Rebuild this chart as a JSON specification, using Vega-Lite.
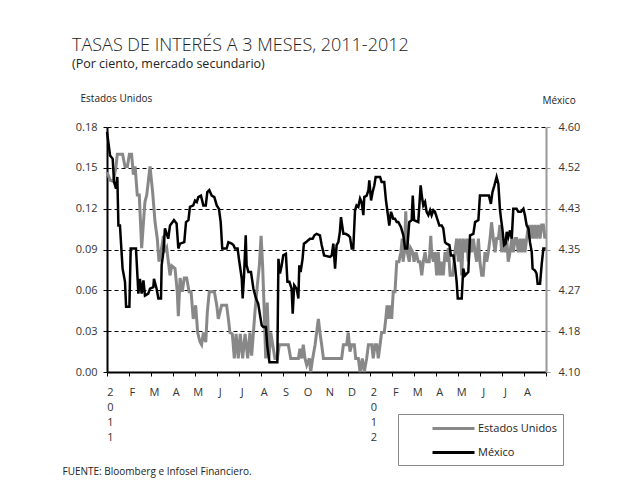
{
"$schema":"https://vega.github.io/schema/vega-lite/v6.json",
"autosize":{"type":"none"},
"width":439,"height":245,
"padding":{"left":107,"top":127,"right":75,"bottom":122},
"background":"white",
"config":{"font":"Open Sans","view":{"stroke":null}},
"title":{"text":"TASAS DE INTERÉS A 3 MESES, 2011-2012","subtitle":"(Por ciento, mercado secundario)","anchor":"start","frame":"group","dx":-35,"offset":23,"fontSize":18,"fontWeight":300,"color":"#222","subtitleFontSize":12.5,"subtitleFontWeight":"normal","subtitleColor":"#222","subtitlePadding":3},
"datasets":{
"us":[{"t":0,"v":0.147},{"t":0.14,"v":0.141},{"t":0.29,"v":0.14},{"t":0.41,"v":0.151},{"t":0.47,"v":0.16},{"t":0.71,"v":0.16},{"t":0.82,"v":0.151},{"t":0.93,"v":0.151},{"t":1.02,"v":0.16},{"t":1.12,"v":0.16},{"t":1.2,"v":0.145},{"t":1.28,"v":0.151},{"t":1.38,"v":0.13},{"t":1.47,"v":0.13},{"t":1.58,"v":0.091},{"t":1.66,"v":0.11},{"t":1.73,"v":0.125},{"t":1.81,"v":0.13},{"t":1.96,"v":0.151},{"t":2.08,"v":0.132},{"t":2.19,"v":0.11},{"t":2.29,"v":0.098},{"t":2.37,"v":0.081},{"t":2.46,"v":0.088},{"t":2.57,"v":0.1},{"t":2.64,"v":0.088},{"t":2.72,"v":0.091},{"t":2.87,"v":0.071},{"t":2.95,"v":0.078},{"t":3.1,"v":0.076},{"t":3.2,"v":0.059},{"t":3.25,"v":0.041},{"t":3.33,"v":0.069},{"t":3.43,"v":0.059},{"t":3.52,"v":0.069},{"t":3.63,"v":0.069},{"t":3.74,"v":0.059},{"t":3.83,"v":0.059},{"t":3.93,"v":0.039},{"t":4.04,"v":0.049},{"t":4.13,"v":0.029},{"t":4.24,"v":0.022},{"t":4.31,"v":0.02},{"t":4.39,"v":0.029},{"t":4.5,"v":0.022},{"t":4.57,"v":0.044},{"t":4.66,"v":0.059},{"t":4.89,"v":0.059},{"t":5.0,"v":0.049},{"t":5.07,"v":0.039},{"t":5.22,"v":0.049},{"t":5.45,"v":0.049},{"t":5.53,"v":0.039},{"t":5.6,"v":0.029},{"t":5.71,"v":0.028},{"t":5.8,"v":0.01},{"t":5.88,"v":0.028},{"t":5.98,"v":0.01},{"t":6.07,"v":0.028},{"t":6.18,"v":0.01},{"t":6.29,"v":0.028},{"t":6.41,"v":0.01},{"t":6.51,"v":0.029},{"t":6.59,"v":0.012},{"t":6.67,"v":0.029},{"t":6.74,"v":0.044},{"t":6.85,"v":0.064},{"t":6.94,"v":0.078},{"t":7.02,"v":0.1},{"t":7.09,"v":0.078},{"t":7.15,"v":0.051},{"t":7.23,"v":0.01},{"t":7.3,"v":0.051},{"t":7.38,"v":0.01},{"t":7.46,"v":0.029},{"t":7.55,"v":0.02},{"t":7.65,"v":0.01},{"t":7.76,"v":0.01},{"t":7.85,"v":0.02},{"t":8.26,"v":0.02},{"t":8.37,"v":0.01},{"t":8.72,"v":0.01},{"t":8.79,"v":0.017},{"t":8.87,"v":0.01},{"t":8.94,"v":0.02},{"t":9.02,"v":0.01},{"t":9.1,"v":0.005},{"t":9.22,"v":0.01},{"t":9.28,"v":0.0},{"t":9.37,"v":0.01},{"t":9.48,"v":0.02},{"t":9.55,"v":0.029},{"t":9.63,"v":0.039},{"t":9.7,"v":0.029},{"t":9.78,"v":0.02},{"t":9.86,"v":0.01},{"t":10.16,"v":0.01},{"t":10.69,"v":0.01},{"t":10.77,"v":0.02},{"t":10.92,"v":0.02},{"t":10.99,"v":0.029},{"t":11.07,"v":0.015},{"t":11.15,"v":0.02},{"t":11.27,"v":0.02},{"t":11.33,"v":0.01},{"t":11.45,"v":0.01},{"t":11.53,"v":0.0},{"t":11.63,"v":0.01},{"t":11.72,"v":0.0},{"t":11.83,"v":0.01},{"t":11.91,"v":0.02},{"t":12.06,"v":0.02},{"t":12.13,"v":0.01},{"t":12.21,"v":0.02},{"t":12.29,"v":0.02},{"t":12.36,"v":0.01},{"t":12.44,"v":0.02},{"t":12.51,"v":0.029},{"t":12.63,"v":0.029},{"t":12.7,"v":0.039},{"t":12.76,"v":0.049},{"t":12.82,"v":0.039},{"t":12.89,"v":0.049},{"t":12.97,"v":0.039},{"t":13.04,"v":0.059},{"t":13.12,"v":0.059},{"t":13.2,"v":0.081},{"t":13.3,"v":0.081},{"t":13.39,"v":0.088},{"t":13.45,"v":0.098},{"t":13.49,"v":0.081},{"t":13.55,"v":0.088},{"t":13.61,"v":0.118},{"t":13.68,"v":0.088},{"t":13.77,"v":0.081},{"t":13.83,"v":0.091},{"t":13.93,"v":0.088},{"t":13.99,"v":0.081},{"t":14.08,"v":0.088},{"t":14.18,"v":0.081},{"t":14.26,"v":0.081},{"t":14.34,"v":0.071},{"t":14.41,"v":0.081},{"t":14.49,"v":0.088},{"t":14.56,"v":0.081},{"t":14.68,"v":0.081},{"t":14.75,"v":0.1},{"t":14.79,"v":0.088},{"t":14.87,"v":0.081},{"t":14.94,"v":0.088},{"t":15.02,"v":0.071},{"t":15.09,"v":0.088},{"t":15.17,"v":0.071},{"t":15.25,"v":0.081},{"t":15.32,"v":0.071},{"t":15.4,"v":0.088},{"t":15.47,"v":0.081},{"t":15.55,"v":0.091},{"t":15.63,"v":0.071},{"t":15.75,"v":0.071},{"t":15.81,"v":0.081},{"t":15.85,"v":0.088},{"t":15.93,"v":0.098},{"t":16.01,"v":0.081},{"t":16.08,"v":0.098},{"t":16.16,"v":0.071},{"t":16.23,"v":0.098},{"t":16.31,"v":0.088},{"t":16.39,"v":0.098},{"t":16.46,"v":0.081},{"t":16.54,"v":0.098},{"t":16.61,"v":0.088},{"t":16.69,"v":0.098},{"t":16.77,"v":0.088},{"t":16.84,"v":0.081},{"t":16.92,"v":0.098},{"t":16.99,"v":0.081},{"t":17.07,"v":0.071},{"t":17.14,"v":0.071},{"t":17.22,"v":0.088},{"t":17.3,"v":0.081},{"t":17.37,"v":0.088},{"t":17.45,"v":0.098},{"t":17.52,"v":0.11},{"t":17.6,"v":0.098},{"t":17.68,"v":0.088},{"t":17.75,"v":0.098},{"t":17.83,"v":0.098},{"t":17.9,"v":0.108},{"t":17.98,"v":0.088},{"t":18.06,"v":0.098},{"t":18.13,"v":0.088},{"t":18.21,"v":0.098},{"t":18.28,"v":0.081},{"t":18.36,"v":0.088},{"t":18.44,"v":0.098},{"t":18.51,"v":0.088},{"t":18.59,"v":0.098},{"t":18.66,"v":0.098},{"t":18.74,"v":0.088},{"t":18.82,"v":0.098},{"t":18.89,"v":0.088},{"t":18.97,"v":0.098},{"t":19.04,"v":0.088},{"t":19.12,"v":0.098},{"t":19.2,"v":0.108},{"t":19.27,"v":0.098},{"t":19.35,"v":0.108},{"t":19.42,"v":0.098},{"t":19.5,"v":0.108},{"t":19.57,"v":0.098},{"t":19.65,"v":0.108},{"t":19.73,"v":0.098},{"t":19.8,"v":0.108},{"t":19.88,"v":0.108},{"t":19.95,"v":0.098}],
"mx":[{"t":0,"v":4.59},{"t":0.14,"v":4.542},{"t":0.26,"v":4.535},{"t":0.32,"v":4.488},{"t":0.41,"v":4.474},{"t":0.47,"v":4.498},{"t":0.52,"v":4.399},{"t":0.59,"v":4.399},{"t":0.64,"v":4.362},{"t":0.71,"v":4.311},{"t":0.82,"v":4.284},{"t":0.87,"v":4.233},{"t":1.02,"v":4.233},{"t":1.08,"v":4.352},{"t":1.32,"v":4.352},{"t":1.43,"v":4.26},{"t":1.5,"v":4.29},{"t":1.58,"v":4.26},{"t":1.66,"v":4.287},{"t":1.73,"v":4.256},{"t":1.88,"v":4.26},{"t":1.96,"v":4.27},{"t":2.11,"v":4.273},{"t":2.14,"v":4.29},{"t":2.26,"v":4.27},{"t":2.34,"v":4.25},{"t":2.46,"v":4.25},{"t":2.49,"v":4.318},{"t":2.57,"v":4.345},{"t":2.64,"v":4.393},{"t":2.72,"v":4.382},{"t":2.79,"v":4.372},{"t":2.87,"v":4.399},{"t":2.99,"v":4.406},{"t":3.05,"v":4.41},{"t":3.17,"v":4.403},{"t":3.25,"v":4.352},{"t":3.33,"v":4.362},{"t":3.52,"v":4.365},{"t":3.6,"v":4.406},{"t":3.71,"v":4.41},{"t":3.78,"v":4.437},{"t":3.93,"v":4.44},{"t":4.01,"v":4.45},{"t":4.09,"v":4.447},{"t":4.16,"v":4.457},{"t":4.28,"v":4.46},{"t":4.39,"v":4.44},{"t":4.5,"v":4.44},{"t":4.57,"v":4.467},{"t":4.66,"v":4.471},{"t":4.77,"v":4.46},{"t":4.89,"v":4.457},{"t":5.0,"v":4.44},{"t":5.1,"v":4.433},{"t":5.18,"v":4.406},{"t":5.25,"v":4.352},{"t":5.45,"v":4.352},{"t":5.53,"v":4.365},{"t":5.68,"v":4.362},{"t":5.76,"v":4.359},{"t":5.83,"v":4.352},{"t":5.95,"v":4.352},{"t":6.01,"v":4.331},{"t":6.14,"v":4.29},{"t":6.18,"v":4.25},{"t":6.24,"v":4.294},{"t":6.32,"v":4.379},{"t":6.36,"v":4.318},{"t":6.44,"v":4.304},{"t":6.56,"v":4.304},{"t":6.67,"v":4.27},{"t":6.79,"v":4.25},{"t":6.89,"v":4.239},{"t":6.97,"v":4.216},{"t":7.05,"v":4.195},{"t":7.12,"v":4.192},{"t":7.24,"v":4.192},{"t":7.3,"v":4.154},{"t":7.4,"v":4.12},{"t":7.76,"v":4.12},{"t":7.81,"v":4.331},{"t":7.88,"v":4.301},{"t":7.96,"v":4.318},{"t":8.03,"v":4.338},{"t":8.15,"v":4.341},{"t":8.22,"v":4.284},{"t":8.31,"v":4.284},{"t":8.41,"v":4.27},{"t":8.46,"v":4.219},{"t":8.53,"v":4.277},{"t":8.64,"v":4.27},{"t":8.72,"v":4.25},{"t":8.76,"v":4.318},{"t":8.82,"v":4.304},{"t":8.91,"v":4.331},{"t":8.97,"v":4.362},{"t":9.07,"v":4.365},{"t":9.17,"v":4.369},{"t":9.25,"v":4.372},{"t":9.37,"v":4.372},{"t":9.45,"v":4.379},{"t":9.55,"v":4.382},{"t":9.7,"v":4.379},{"t":9.78,"v":4.359},{"t":9.89,"v":4.338},{"t":10.16,"v":4.335},{"t":10.24,"v":4.338},{"t":10.31,"v":4.362},{"t":10.39,"v":4.311},{"t":10.46,"v":4.359},{"t":10.54,"v":4.365},{"t":10.61,"v":4.386},{"t":10.66,"v":4.416},{"t":10.77,"v":4.382},{"t":10.87,"v":4.382},{"t":10.99,"v":4.379},{"t":11.07,"v":4.375},{"t":11.15,"v":4.352},{"t":11.22,"v":4.352},{"t":11.3,"v":4.43},{"t":11.37,"v":4.44},{"t":11.45,"v":4.437},{"t":11.53,"v":4.454},{"t":11.6,"v":4.447},{"t":11.68,"v":4.42},{"t":11.72,"v":4.457},{"t":11.83,"v":4.46},{"t":11.91,"v":4.471},{"t":11.95,"v":4.491},{"t":12.03,"v":4.45},{"t":12.1,"v":4.467},{"t":12.18,"v":4.481},{"t":12.24,"v":4.498},{"t":12.44,"v":4.498},{"t":12.51,"v":4.488},{"t":12.63,"v":4.488},{"t":12.71,"v":4.45},{"t":12.79,"v":4.423},{"t":12.86,"v":4.399},{"t":12.94,"v":4.427},{"t":13.04,"v":4.413},{"t":13.12,"v":4.413},{"t":13.2,"v":4.406},{"t":13.27,"v":4.406},{"t":13.39,"v":4.396},{"t":13.5,"v":4.379},{"t":13.58,"v":4.352},{"t":13.68,"v":4.352},{"t":13.77,"v":4.406},{"t":13.88,"v":4.41},{"t":13.93,"v":4.46},{"t":13.99,"v":4.41},{"t":14.18,"v":4.406},{"t":14.23,"v":4.44},{"t":14.29,"v":4.481},{"t":14.35,"v":4.457},{"t":14.41,"v":4.44},{"t":14.49,"v":4.447},{"t":14.56,"v":4.427},{"t":14.64,"v":4.42},{"t":14.72,"v":4.43},{"t":14.79,"v":4.42},{"t":14.87,"v":4.43},{"t":14.94,"v":4.427},{"t":15.02,"v":4.416},{"t":15.14,"v":4.399},{"t":15.25,"v":4.399},{"t":15.32,"v":4.393},{"t":15.4,"v":4.365},{"t":15.47,"v":4.362},{"t":15.6,"v":4.359},{"t":15.67,"v":4.338},{"t":15.78,"v":4.338},{"t":15.85,"v":4.318},{"t":15.93,"v":4.284},{"t":15.98,"v":4.25},{"t":16.16,"v":4.25},{"t":16.23,"v":4.311},{"t":16.31,"v":4.297},{"t":16.46,"v":4.304},{"t":16.54,"v":4.379},{"t":16.69,"v":4.382},{"t":16.77,"v":4.406},{"t":16.92,"v":4.41},{"t":16.99,"v":4.46},{"t":17.4,"v":4.46},{"t":17.49,"v":4.443},{"t":17.56,"v":4.467},{"t":17.65,"v":4.481},{"t":17.75,"v":4.498},{"t":17.83,"v":4.484},{"t":17.9,"v":4.433},{"t":17.95,"v":4.413},{"t":18.01,"v":4.393},{"t":18.09,"v":4.359},{"t":18.16,"v":4.362},{"t":18.21,"v":4.386},{"t":18.28,"v":4.375},{"t":18.36,"v":4.389},{"t":18.44,"v":4.372},{"t":18.51,"v":4.433},{"t":18.66,"v":4.433},{"t":18.74,"v":4.427},{"t":18.86,"v":4.427},{"t":18.97,"v":4.433},{"t":19.04,"v":4.42},{"t":19.12,"v":4.399},{"t":19.2,"v":4.393},{"t":19.27,"v":4.365},{"t":19.35,"v":4.345},{"t":19.39,"v":4.311},{"t":19.5,"v":4.307},{"t":19.57,"v":4.301},{"t":19.62,"v":4.28},{"t":19.73,"v":4.28},{"t":19.8,"v":4.318},{"t":19.88,"v":4.352},{"t":19.98,"v":4.352}]
},
"encoding":{
"x":{"field":"t","type":"quantitative","scale":{"domain":[0,20],"nice":false,"zero":false},
"axis":{"values":[0,1,2,3,4,5,6,7,8,9,10,11,12,13,14,15,16,17,18,19,20],
"labelExpr":"datum.value == 0 ? ['2','0','1','1'] : datum.value == 12 ? ['2','0','1','2'] : datum.value >= 20 ? '' : ['E','F','M','A','M','J','J','A','S','O','N','D'][datum.value % 12]",
"labelFontSize":11,"labelColor":"#333","labelLineHeight":15,"labelPadding":10,"labelOffset":3,"labelFlush":false,"labelOverlap":false,"labelBound":false,
"domainColor":"black","domainWidth":2,"tickColor":"black","tickSize":4,"tickWidth":1,"grid":false,
"title":"FUENTE: Bloomberg e Infosel  Financiero.","titleX":-45,"titleY":99,"titleAnchor":null,"titleAlign":"left","titleBaseline":"middle","titleFontSize":10,"titleFontWeight":"normal","titleColor":"#222"}}
},
"layer":[
{"data":{"name":"us"},"mark":{"type":"line","strokeWidth":3},
"encoding":{
"y":{"field":"v","type":"quantitative","scale":{"domain":[0,0.18],"nice":false,"zero":false},
"axis":{"orient":"left","values":[0,0.03,0.06,0.09,0.12,0.15,0.18],"format":".2f","labelFontSize":11,"labelColor":"#333","labelPadding":6,
"domainColor":"black","domainWidth":2,"tickColor":"black","tickSize":4,
"grid":true,"gridDash":[4,3],"gridColor":"black","gridWidth":1,
"title":"Estados Unidos","titleAngle":0,"titleX":-27,"titleY":-29,"titleAlign":"left","titleBaseline":"middle","titleFontSize":10,"titleFontWeight":"normal","titleColor":"#222"}},
"color":{"datum":"Estados Unidos","type":"nominal","scale":{"domain":["Estados Unidos","México"],"range":["#888888","#000000"]},
"legend":{"title":null,"orient":"none","legendX":291,"legendY":287,"strokeColor":"#888","padding":6,"symbolType":"M-3,0H3","symbolSize":196,"symbolStrokeWidth":3,"symbolOffset":41,"labelOffset":16,"labelFontSize":11,"labelColor":"#222","rowPadding":9}}
}},
{"data":{"name":"mx"},"mark":{"type":"line","strokeWidth":2.5},
"encoding":{
"y":{"field":"v","type":"quantitative","scale":{"domain":[4.1,4.6],"nice":false,"zero":false},
"axis":{"orient":"right","values":[4.1,4.18333,4.26667,4.35,4.43333,4.51667,4.6],"format":".2f","labelFontSize":11,"labelColor":"#333","labelPadding":8,
"domainColor":"#999","domainWidth":2,"tickColor":"#999","tickSize":4,"grid":false,
"title":"México","titleAngle":0,"titleX":-4,"titleY":-27,"titleAlign":"left","titleBaseline":"middle","titleFontSize":10,"titleFontWeight":"normal","titleColor":"#222"}},
"color":{"datum":"México","type":"nominal"}
}}
],
"resolve":{"scale":{"y":"independent"}}
}
